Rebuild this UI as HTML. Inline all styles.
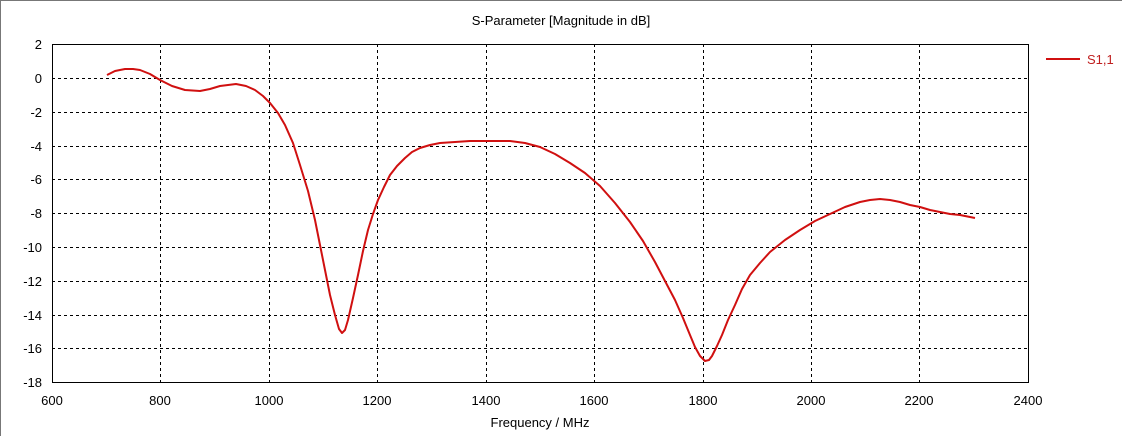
<!DOCTYPE html><html><head><style>body{margin:0;background:#fff}svg{display:block;font-family:"Liberation Sans",sans-serif}</style></head><body>
<svg width="1122" height="436" xmlns="http://www.w3.org/2000/svg">
<rect x="0.5" y="0.5" width="1130" height="440" fill="#fff" stroke="#777"/>
<text x="561" y="25" font-size="13" text-anchor="middle">S-Parameter [Magnitude in dB]</text>
<g stroke="#000" stroke-dasharray="3,3" stroke-width="1">
<path d="M160.5 44V382M269.5 44V382M377.5 44V382M486.5 44V382M594.5 44V382M703.5 44V382M811.5 44V382M919.5 44V382"/>
<path d="M52 78.5H1028M52 112.5H1028M52 146.5H1028M52 179.5H1028M52 213.5H1028M52 247.5H1028M52 281.5H1028M52 315.5H1028M52 348.5H1028"/>
</g>
<rect x="52.5" y="44.5" width="976" height="338" fill="none" stroke="#000"/>
<g font-size="13" text-anchor="end">
<text x="42" y="49">2</text><text x="42" y="83">0</text><text x="42" y="117">-2</text><text x="42" y="151">-4</text><text x="42" y="184">-6</text><text x="42" y="218">-8</text><text x="42" y="252">-10</text><text x="42" y="286">-12</text><text x="42" y="320">-14</text><text x="42" y="353">-16</text><text x="42" y="387">-18</text>
</g>
<g font-size="13" text-anchor="middle">
<text x="52" y="405">600</text><text x="160" y="405">800</text><text x="269" y="405">1000</text><text x="377" y="405">1200</text><text x="486" y="405">1400</text><text x="594" y="405">1600</text><text x="703" y="405">1800</text><text x="811" y="405">2000</text><text x="919" y="405">2200</text><text x="1028" y="405">2400</text>
<text x="540" y="427">Frequency / MHz</text>
</g>
<polyline fill="none" stroke="#d01010" stroke-width="2" stroke-linejoin="round" points="107,75 115,71 125,69 133,69 140,70 150,74 160,80 172,86 185,90 200,91 210,89 220,86 236,84 246,86 255,90 263,96 270,103 278,113 285,125 293,143 300,165 308,191 315,220 320,245 325,270 330,295 335,315 339,329 342,333 345,330 348,320 353,298 358,275 363,251 368,230 373,214 378,200 384,187 390,175 397,166 405,158 412,152 420,148 430,145 440,143 455,142 470,141 490,141 510,141 525,143 540,147 555,154 570,163 585,173 600,186 615,203 630,222 643,241 655,262 665,281 675,300 683,318 690,335 695,347 700,356 705,361 709,360 712,356 717,346 722,335 728,320 735,305 742,289 750,275 760,263 770,252 785,240 800,230 815,221 830,214 845,207 860,202 870,200 880,199 890,200 900,202 910,205 920,207 930,210 940,212 950,214 960,215 975,218"/>
<line x1="1046" y1="59" x2="1080" y2="59" stroke="#d01010" stroke-width="2"/>
<text x="1087" y="64" font-size="13" fill="#c02020">S1,1</text>
</svg>
</body></html>
